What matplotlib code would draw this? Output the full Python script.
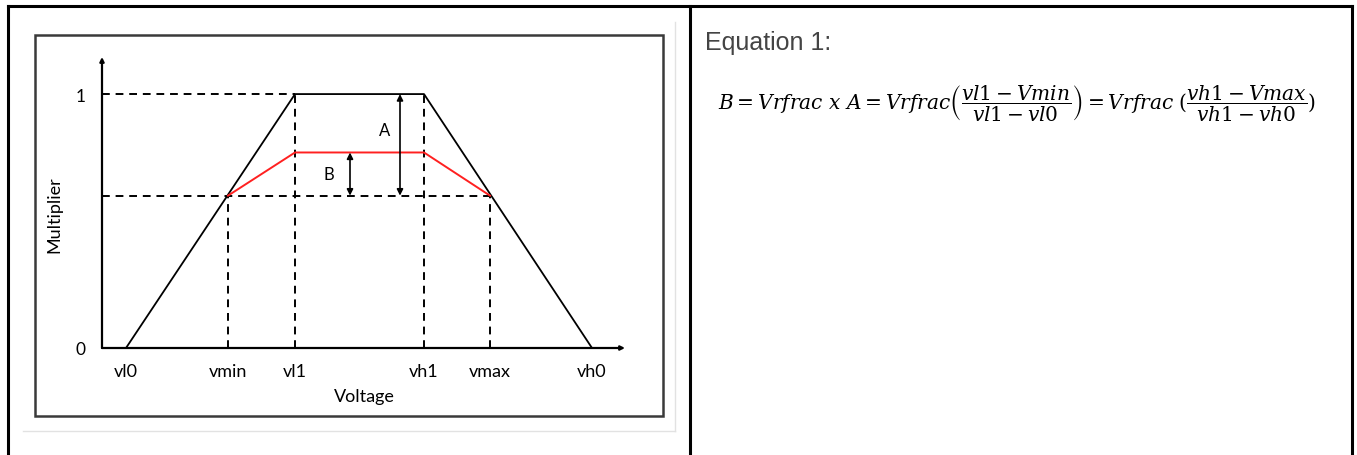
import matplotlib
matplotlib.use("Agg")
import matplotlib.pyplot as plt

W, H = 1357, 456

# voltage break points (arbitrary units)
v_names = ["vl0", "vmin", "vl1", "vh1", "vmax", "vh0"]
v_vals = [2.4, 12.6, 19.3, 32.2, 38.8, 49.0]
x_end = 52.3

# multiplier levels
m_full = 1.0
m_red = 0.77
m_low = 0.6
y_top = 1.146

trap_x = [v_vals[0], v_vals[2], v_vals[3], v_vals[5]]
trap_y = [0, m_full, m_full, 0]
red_x = [v_vals[1], v_vals[2], v_vals[3], v_vals[4]]
red_y = [m_low, m_red, m_red, m_low]

arrow_a_x = 29.8
arrow_b_x = 24.8

equation = (r"$B = Vrfrac\ x\ A = Vrfrac\left(\dfrac{vl1 - Vmin}{vl1 - vl0}\right)"
            r" = Vrfrac\ (\dfrac{vh1 - Vmax}{vh1 - vh0})$")

plt.rcParams["mathtext.fontset"] = "dejavuserif"
font = ["Lato", "DejaVu Sans"]

fig = plt.figure(figsize=(W / 100, H / 100), dpi=100)

# page layer in pixel coords: table borders, picture frame, text
bg = fig.add_axes([0, 0, 1, 1])
bg.set_xlim(0, W)
bg.set_ylim(H, 0)
bg.axis("off")
for xs, ys in [([8, 1352], [7, 7]), ([8, 8], [7, H]), ([690, 690], [7, H]),
               ([1352, 1352], [7, H])]:
    bg.plot(xs, ys, color="black", lw=2.2, solid_capstyle="projecting")
bg.plot([675, 675], [23, 432], color="#e2e2e2", lw=1)
bg.plot([23, 675], [432, 432], color="#e2e2e2", lw=1)
bg.add_patch(plt.Rectangle((35, 36), 628, 381, fill=False, ec="#3a3a3a", lw=1.8))

bg.text(705, 50, "Equation 1:", fontsize=18, color="#444444",
        family=["Liberation Sans", "DejaVu Sans"], va="baseline")
bg.text(718, 104, equation, fontsize=14.5, va="center", ha="left")

bg.text(54, 215, "Multiplier", rotation=90, fontsize=13, family=font,
        ha="center", va="center")
bg.text(364, 397, "Voltage", fontsize=13, family=font, ha="center", va="center")

# chart layer
ax = fig.add_axes([102 / W, (H - 349) / H, 523 / W, 291 / H])
ax.set_xlim(0, x_end)
ax.set_ylim(0, y_top)
ax.patch.set_alpha(0)
for s in ax.spines.values():
    s.set_visible(False)

dash = dict(color="black", lw=1.4, ls=(0, (4, 3)))
ax.plot([0, v_vals[2]], [m_full, m_full], **dash)
ax.plot([0, v_vals[4]], [m_low, m_low], **dash)
for v, top in [(v_vals[1], m_low), (v_vals[2], m_full), (v_vals[3], m_full), (v_vals[4], m_low)]:
    ax.plot([v, v], [0, top], **dash)

ax.plot(trap_x, trap_y, color="black", lw=1.3)
ax.plot(red_x, red_y, color="#ff2020", lw=1.4)

arr = dict(arrowstyle="<|-|>", color="black", lw=1.2, mutation_scale=9, shrinkA=0, shrinkB=0)
ax.annotate("", xy=(arrow_a_x, m_low), xytext=(arrow_a_x, m_full), arrowprops=arr)
ax.annotate("", xy=(arrow_b_x, m_low), xytext=(arrow_b_x, m_red), arrowprops=arr)
ax.text(arrow_a_x - 1.5, 0.86, "A", fontsize=12, family=font, ha="center", va="center")
ax.text(arrow_b_x - 2.1, 0.685, "B", fontsize=12, family=font, ha="center", va="center")

axis_arr = dict(arrowstyle="-|>", color="black", lw=1.6, mutation_scale=6, shrinkA=0, shrinkB=0)
ax.annotate("", xy=(x_end, 0), xytext=(0, 0), arrowprops=axis_arr, annotation_clip=False)
ax.annotate("", xy=(0, y_top), xytext=(0, 0), arrowprops=axis_arr, annotation_clip=False)

ax.set_xticks(v_vals)
ax.set_xticklabels(v_names, fontsize=13, family=font)
ax.set_yticks([0, 1])
ax.set_yticklabels(["0", "1"], fontsize=12.5, family=font)
ax.tick_params(length=0)
ax.tick_params(axis="x", pad=11)
ax.tick_params(axis="y", pad=12)

fig.savefig("out.png", dpi=100)
